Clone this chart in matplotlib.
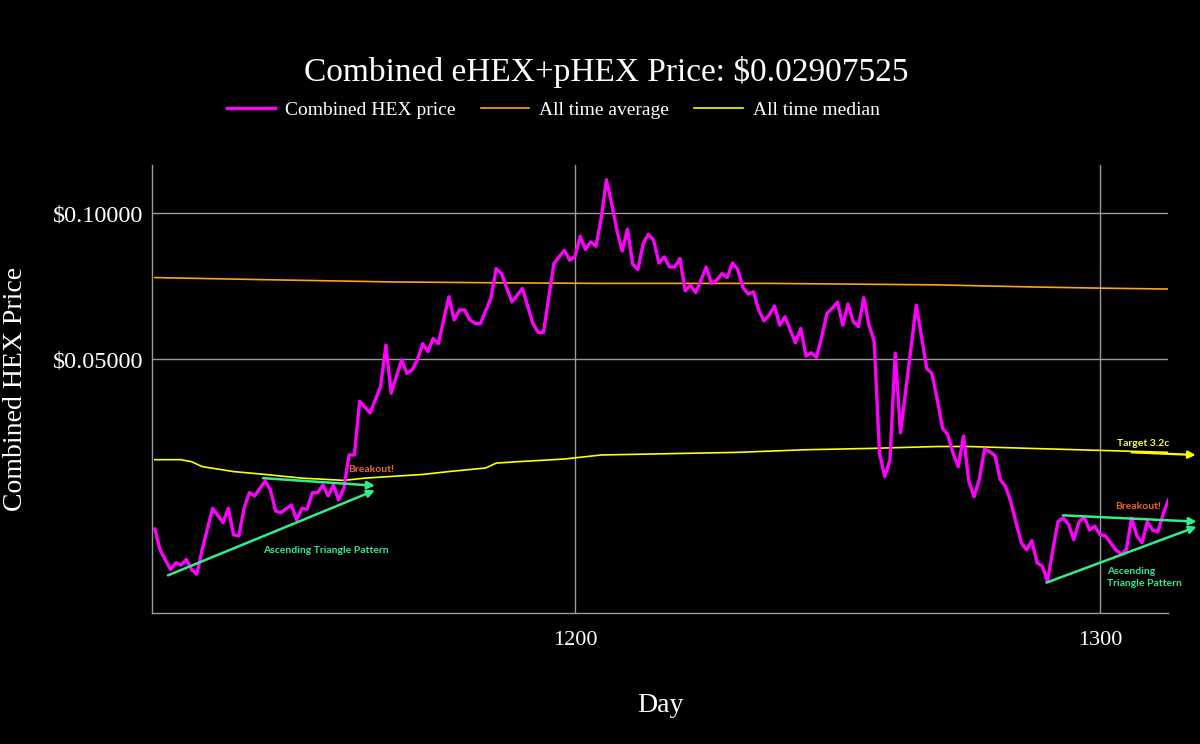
import matplotlib
matplotlib.use('Agg')
import matplotlib.pyplot as plt
from matplotlib.ticker import FixedLocator, NullLocator

# データ
days = [1120, 1121, 1123, 1124, 1125, 1126, 1127, 1128, 1129, 1131, 1133, 1134, 1135, 1136, 1137, 1138, 1139,
        1141, 1142, 1143, 1144, 1146, 1147, 1148, 1149, 1150, 1151, 1152, 1153, 1154, 1155, 1156, 1157, 1158, 1159,
        1161, 1163, 1164, 1165, 1167, 1168, 1169, 1170, 1171, 1172, 1173, 1174, 1176, 1177, 1178, 1179, 1180, 1181,
        1182, 1184, 1185, 1186, 1188, 1190, 1192, 1193, 1194, 1196, 1198, 1199, 1200,
        1201, 1202, 1203, 1204, 1205, 1206, 1207, 1208, 1209, 1210, 1211, 1212, 1213, 1214, 1215, 1216, 1217, 1218,
        1219, 1220, 1221, 1222, 1223, 1224, 1225, 1226, 1227, 1228, 1229, 1230, 1231, 1232, 1233, 1234, 1235, 1236,
        1237, 1238, 1239, 1240, 1241, 1242, 1243, 1244, 1245, 1246, 1247, 1248, 1249, 1250, 1251, 1252, 1253, 1254,
        1255, 1256, 1257, 1258, 1259, 1260, 1261, 1262, 1265, 1266, 1267, 1268, 1269, 1270, 1271, 1272, 1273, 1274,
        1275, 1276, 1277, 1278, 1279, 1280, 1281, 1282, 1283, 1284, 1285, 1286, 1287, 1288, 1289, 1290, 1291, 1292,
        1293, 1294, 1295, 1296, 1297, 1298, 1299, 1300, 1301, 1302, 1303, 1304, 1305, 1306, 1307, 1308, 1309, 1310,
        1311, 1312, 1313]
price = [0.0223, 0.0202, 0.0184, 0.0190, 0.0188, 0.0193, 0.0184, 0.0180, 0.0202, 0.0246, 0.0230, 0.0246, 0.0217,
         0.0216, 0.0246, 0.0265, 0.0261,
         0.0280, 0.0269, 0.0243, 0.0241, 0.0250, 0.0233, 0.0246, 0.0245, 0.0265, 0.0265, 0.0275, 0.0261, 0.0275,
         0.0256, 0.0271, 0.0317, 0.0317, 0.0409,
         0.0387, 0.0439, 0.0534, 0.0425, 0.0498, 0.0467, 0.0475, 0.0498, 0.0538, 0.0518, 0.0551, 0.0538, 0.0672,
         0.0602, 0.0631, 0.0631, 0.0602, 0.0592,
         0.0592, 0.0667, 0.0768, 0.0750, 0.0656, 0.0699, 0.0592, 0.0567, 0.0567, 0.0787, 0.0838, 0.0799, 0.0812,
         0.0895, 0.0841, 0.0872, 0.0854, 0.0973, 0.1171, 0.1045, 0.0921, 0.0835, 0.0926, 0.0784, 0.0765, 0.0865,
         0.0904, 0.0879, 0.0789, 0.0812, 0.0774,
         0.0774, 0.0806, 0.0691, 0.0710, 0.0685, 0.0727, 0.0774, 0.0716, 0.0727, 0.0750, 0.0736, 0.0789, 0.0765,
         0.0702, 0.0681, 0.0688, 0.0631, 0.0599,
         0.0616, 0.0643, 0.0587, 0.0611, 0.0574, 0.0540, 0.0578, 0.0507, 0.0515, 0.0504, 0.0556, 0.0621, 0.0636,
         0.0655, 0.0587, 0.0649, 0.0597, 0.0583,
         0.0669, 0.0587, 0.0543, 0.0320, 0.0286, 0.0310, 0.0514, 0.0352, 0.0646, 0.0556, 0.0478, 0.0467, 0.0412,
         0.0360, 0.0349, 0.0320, 0.0300, 0.0347,
         0.0280, 0.0260, 0.0282, 0.0326, 0.0322, 0.0316, 0.0282, 0.0273, 0.0254, 0.0230, 0.0209, 0.0202, 0.0211,
         0.0190, 0.0187, 0.0174, 0.0202, 0.0231,
         0.0235, 0.0228, 0.0212, 0.0231, 0.0236, 0.0222, 0.0226, 0.0217, 0.0216, 0.0209, 0.0202, 0.0198, 0.0202,
         0.0235, 0.0216, 0.0209, 0.0231, 0.0222,
         0.0220, 0.0239, 0.0256]

avg_days = [1120, 1140, 1165, 1185, 1205, 1237, 1256, 1269, 1279, 1287, 1300, 1313]
avg_price = [0.0736, 0.0729, 0.0721, 0.0718, 0.0716, 0.0716, 0.0713, 0.0711, 0.0707, 0.0704, 0.0700, 0.0697]

med_days = [1120, 1125, 1127, 1129, 1135, 1141, 1148, 1156, 1160, 1171, 1176, 1183, 1185, 1189, 1198, 1205,
            1218, 1231, 1244, 1256, 1269, 1275, 1287, 1300, 1313]
med_price = [0.0310, 0.0310, 0.0307, 0.0300, 0.0293, 0.0289, 0.0284, 0.0281, 0.0284, 0.0289, 0.0293, 0.0298,
             0.0305, 0.0307, 0.0311, 0.0317, 0.0319, 0.0321, 0.0325, 0.0327, 0.0330, 0.0330, 0.0327, 0.0324,
             0.0321]

y_ticks = [0.05, 0.10]
y_tick_labels = [r'\$0.05000', r'\$0.10000']
x_ticks = [1200, 1300]

SERIF = 'Liberation Serif'
NOTE = 'Lato'
GREEN = '#33ec8c'
ORANGE_TXT = '#e8682c'

fig = plt.figure(figsize=(12, 7.44), dpi=100, facecolor='black')
ax = fig.add_axes([0.1264, 0.1757, 0.8472, 0.6025], facecolor='black')

ax.plot(days, price, color='#ff00ff', lw=2.4, label='Combined HEX price', zorder=4)
ax.plot(avg_days, avg_price, color='#ffa21f', lw=1.2, label='All time average', zorder=3)
ax.plot(med_days, med_price, color='#ffff00', lw=1.2, label='All time median', zorder=3)

# 軸設定
ax.set_yscale('log')
ax.set_xlim(1119.4, 1313.0)
ax.set_ylim(0.01495, 0.1256)
ax.yaxis.set_major_locator(FixedLocator(y_ticks))
ax.yaxis.set_minor_locator(NullLocator())
ax.set_yticklabels(y_tick_labels)
ax.set_xticks(x_ticks)
ax.set_xticklabels([str(x) for x in x_ticks])
ax.tick_params(axis='both', length=0, colors='white')
ax.tick_params(axis='y', pad=6, labelsize=17.5)
ax.tick_params(axis='x', pad=13, labelsize=16)
for lab in ax.get_xticklabels() + ax.get_yticklabels():
    lab.set_fontfamily(SERIF)
ax.grid(True, color='#9a9a9a', lw=1.0)
for side in ['top', 'right']:
    ax.spines[side].set_visible(False)
for side in ['left', 'bottom']:
    ax.spines[side].set_color('#9a9a9a')
    ax.spines[side].set_linewidth(1.0)

# 注釈（三角形パターン）
arrow_kw = dict(arrowstyle='-|>', color=GREEN, lw=1.8, mutation_scale=11, shrinkA=0, shrinkB=0)
ax.annotate('', xy=(1161.9, 0.0274), xytext=(1140.6, 0.0284), arrowprops=arrow_kw, annotation_clip=False, zorder=5)
ax.annotate('', xy=(1161.9, 0.0268), xytext=(1122.5, 0.0179), arrowprops=arrow_kw, annotation_clip=False, zorder=5)
ax.annotate('', xy=(1318.4, 0.0231), xytext=(1292.9, 0.0238), arrowprops=arrow_kw, annotation_clip=False, zorder=5)
ax.annotate('', xy=(1318.4, 0.02255), xytext=(1289.8, 0.01729), arrowprops=arrow_kw, annotation_clip=False, zorder=5)
ax.annotate('', xy=(1318.2, 0.0317), xytext=(1306.0, 0.0321),
            arrowprops=dict(arrowstyle='-|>', color='#ffff00', lw=1.6, mutation_scale=11, shrinkA=0, shrinkB=0),
            annotation_clip=False, zorder=5)

ax.text(1152.6, 0.0201, 'Ascending Triangle Pattern', color=GREEN, fontsize=7.5, fontweight='bold',
        family=NOTE, ha='center', va='center')
ax.text(1161.1, 0.0296, 'Breakout!', color=ORANGE_TXT, fontsize=7.5, fontweight='bold',
        family=NOTE, ha='center', va='center')
ax.text(1307.2, 0.0248, 'Breakout!', color=ORANGE_TXT, fontsize=7.5, fontweight='bold',
        family=NOTE, ha='center', va='center', clip_on=False)
ax.text(1308.2, 0.0335, 'Target 3.2c', color='#ffff33', fontsize=7.5, fontweight='bold',
        family=NOTE, ha='center', va='center', clip_on=False)
ax.text(1301.3, 0.01774, 'Ascending\nTriangle Pattern', color=GREEN, fontsize=7.5, fontweight='bold',
        family=NOTE, ha='left', va='center', linespacing=1.4, clip_on=False)

# タイトル・ラベル・凡例
fig.text(0.505, 1 - 72 / 744, 'Combined eHEX+pHEX Price: \\$0.02907525', color='white', fontsize=24,
         family=SERIF, ha='center', va='center')
fig.text(16 / 1200, 1 - 389 / 744, 'Combined HEX Price', color='white', fontsize=20, family=SERIF,
         rotation=90, ha='center', va='center')
fig.text(660 / 1200, 1 - 705 / 744, 'Day', color='white', fontsize=20, family=SERIF, ha='center', va='center')

leg = fig.legend(loc='center', bbox_to_anchor=(553 / 1200, 1 - 110 / 744), ncol=3, frameon=False,
                 prop={'family': SERIF, 'size': 14}, handlelength=2.5, handletextpad=0.5, columnspacing=1.3)
for t in leg.get_texts():
    t.set_color('white')

fig.savefig('out.png', dpi=100, facecolor='black')
